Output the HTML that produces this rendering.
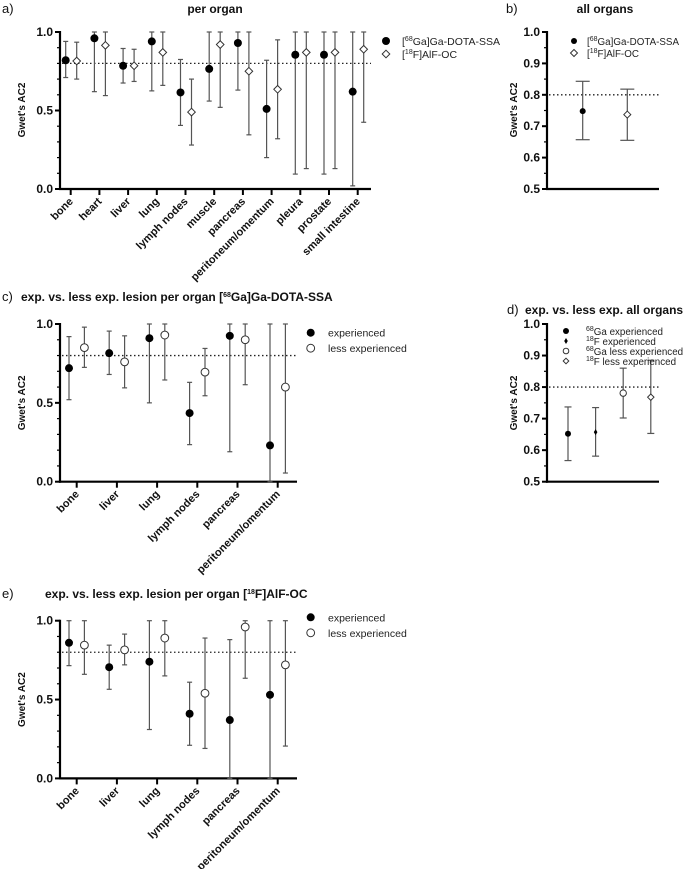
<!DOCTYPE html>
<html><head><meta charset="utf-8">
<style>
html,body{margin:0;padding:0;background:#fff;}
svg{display:block;font-family:"Liberation Sans",Arial,sans-serif;}
</style></head>
<body>
<svg id="fig" width="685" height="869" viewBox="0 0 685 869" xmlns="http://www.w3.org/2000/svg"></svg>
<script>
// ---------- Panel a data ----------
const aCategories = ["bone","heart","liver","lung","lymph nodes","muscle","pancreas","peritoneum/omentum","pleura","prostate","small intestine"];
const aGaVal = [0.82,0.96,0.785,0.94,0.615,0.765,0.93,0.51,0.855,0.855,0.62];
const aGaLo  = [0.71,0.62,0.675,0.625,0.405,0.56,0.63,0.20,0.095,0.095,0.02];
const aGaHi  = [0.94,1.0,0.895,1.0,0.825,1.0,1.0,0.82,1.0,1.0,1.0];
const aFVal  = [0.815,0.915,0.785,0.87,0.49,0.92,0.75,0.635,0.87,0.87,0.89];
const aFLo   = [0.70,0.595,0.685,0.66,0.28,0.52,0.345,0.32,0.13,0.13,0.425];
const aFHi   = [0.935,1.0,0.89,1.0,0.70,1.0,1.0,0.95,1.0,1.0,1.0];
// ---------- Panel b data ----------
const bSeries = ["[68Ga]Ga-DOTA-SSA","[18F]AlF-OC"];
const bVal = [0.748,0.737];
const bLo  = [0.657,0.655];
const bHi  = [0.843,0.818];
// ---------- Panel c data ----------
const cCategories = ["bone","liver","lung","lymph nodes","pancreas","peritoneum/omentum"];
const cExpVal = [0.72,0.815,0.91,0.435,0.925,0.23];
const cExpLo  = [0.52,0.68,0.50,0.235,0.19,0.0];
const cExpHi  = [0.92,0.955,1.0,0.63,1.0,1.0];
const cLessVal= [0.85,0.76,0.93,0.695,0.90,0.60];
const cLessLo = [0.725,0.595,0.645,0.545,0.615,0.055];
const cLessHi = [0.98,0.925,1.0,0.845,1.0,1.0];
// ---------- Panel d data ----------
const dSeries = ["68Ga experienced","18F experienced","68Ga less experienced","18F less experienced"];
const dVal = [0.652,0.657,0.781,0.768];
const dLo  = [0.567,0.581,0.702,0.653];
const dHi  = [0.737,0.735,0.86,0.885];
// ---------- Panel e data ----------
const eCategories = ["bone","liver","lung","lymph nodes","pancreas","peritoneum/omentum"];
const eExpVal = [0.86,0.705,0.74,0.41,0.37,0.53];
const eExpLo  = [0.715,0.565,0.31,0.21,0.0,0.0];
const eExpHi  = [1.0,0.845,1.0,0.61,0.88,1.0];
const eLessVal= [0.845,0.815,0.89,0.54,0.96,0.72];
const eLessLo = [0.66,0.72,0.65,0.19,0.635,0.205];
const eLessHi = [1.0,0.915,1.0,0.89,1.0,1.0];
// tick labels
const yTicksFull = [0,0.5,1.0];
const yTicksZoom = [0.5,0.6,0.7,0.8,0.9,1.0];

const NS="http://www.w3.org/2000/svg";
const svg=document.getElementById('fig');
function el(tag,attrs,parent){const e=document.createElementNS(NS,tag);for(const k in attrs)e.setAttribute(k,attrs[k]);(parent||svg).appendChild(e);return e;}
function txt(x,y,s,attrs,parent){const t=el('text',Object.assign({x:x,y:y,'font-size':11,fill:'#111'},attrs||{}),parent);t.textContent=s;return t;}
function supText(parent,x,y,parts,attrs){
  const t=el('text',Object.assign({x:x,y:y,'font-size':11,fill:'#222'},attrs||{}),parent);
  parts.forEach(p=>{const ts=el('tspan',p[1]?{'font-size':7,dy:-4}:{dy:p[2]||0},t);ts.textContent=p[0];});
  return t;
}
function marker(g,kind,x,y,r){
  if(kind==='dot'){return el('circle',{cx:x,cy:y,r:r,fill:'#000'},g);}
  if(kind==='circle'){return el('circle',{cx:x,cy:y,r:r,fill:'#fff',stroke:'#333','stroke-width':1},g);}
  if(kind==='diamond'){return el('path',{d:`M${x},${y-r} L${x+r},${y} L${x},${y+r} L${x-r},${y} Z`,fill:'#fff',stroke:'#333','stroke-width':1},g);}
  if(kind==='star'){return el('path',{d:`M${x},${y-r} L${x+r*0.6},${y} L${x},${y+r} L${x-r*0.6},${y} Z`,fill:'#000'},g);}
}
function axes(g,x0,x1,yTop,yBot,vmin,vmax,ticks,minorStep){
  const ys=v=>yBot-(v-vmin)/(vmax-vmin)*(yBot-yTop);
  el('line',{x1:x0,y1:yTop-1,x2:x0,y2:yBot+1,stroke:'#000','stroke-width':2.2},g);
  el('line',{x1:x0-1,y1:yBot,x2:x1,y2:yBot,stroke:'#000','stroke-width':2.2},g);
  for(let v=vmin;v<=vmax+1e-9;v+=minorStep){el('line',{x1:x0-3,y1:ys(v),x2:x0,y2:ys(v),stroke:'#000','stroke-width':1.2},g);}
  ticks.forEach(v=>{
    el('line',{x1:x0-5,y1:ys(v),x2:x0,y2:ys(v),stroke:'#000','stroke-width':2},g);
    const t=txt(x0-7,ys(v)+4,v.toFixed(1),{'text-anchor':'end','font-weight':'bold','font-size':12},g);
    
    
  });
  return ys;
}
function refLine(g,x0,x1,y){el('line',{x1:x0+2,y1:y,x2:x1,y2:y,stroke:'#222','stroke-width':1.3,'stroke-dasharray':'1.5,2.5'},g);}
function errbar(g,x,ys,v,lo,hi,cap,kind,r){
  const eg=el('g',{},g);
  
  
  el('line',{x1:x,y1:ys(lo),x2:x,y2:ys(hi),stroke:'#555','stroke-width':1.2},eg);
  el('line',{x1:x-cap,y1:ys(lo),x2:x+cap,y2:ys(lo),stroke:'#555','stroke-width':1.2},eg);
  el('line',{x1:x-cap,y1:ys(hi),x2:x+cap,y2:ys(hi),stroke:'#555','stroke-width':1.2},eg);
  marker(eg,kind,x,ys(v),r);
}
function yTitle(g,x,y){const t=txt(x,y,"Gwet's AC2",{'text-anchor':'middle','font-weight':'bold','font-size':10,transform:`rotate(-90 ${x} ${y})`},g);}
function catLabels(g,cats,xs,yBot){
  cats.forEach((c,i)=>{const x=xs(i)+3,y=yBot+13;
    const t=txt(x,y,c,{'text-anchor':'end','font-weight':'bold','font-size':11,transform:`rotate(-45 ${x} ${y})`},g);
    
    el('line',{x1:xs(i),y1:yBot,x2:xs(i),y2:yBot+6,stroke:'#000','stroke-width':2},g);
  });
}
function panelLabel(g,x,y,s){const t=txt(x,y,s,{'font-size':13},g);}

// ---- Panel a ----
(function(){
  const g=el('g',{});
  panelLabel(g,2,13,'a)');
  const tt=txt(215,13,'per organ',{'text-anchor':'middle','font-weight':'bold','font-size':12},g);
  const x0=60,x1=371,yTop=32,yBot=189;
  const ys=axes(g,x0,x1,yTop,yBot,0,1,yTicksFull,0.1);
  const xs=i=>70.7+i*28.7;
  refLine(g,x0,x1,ys(0.8));
  catLabels(g,aCategories,xs,yBot);
  aCategories.forEach((c,i)=>{
    errbar(g,xs(i)-5,ys,aGaVal[i],aGaLo[i],aGaHi[i],2.5,'dot',4);
    errbar(g,xs(i)+6,ys,aFVal[i],aFLo[i],aFHi[i],2.5,'diamond',3.8);
  });
  yTitle(g,25,110);
  const l=el('g',{},g);
  marker(l,'dot',386,41,4);marker(l,'diamond',386,54,3.8);
  supText(l,402,45,[['[',0],['68',1],['Ga]Ga-DOTA-SSA',0,4]],{'font-size':10.5});
  supText(l,402,58,[['[',0],['18',1],['F]AlF-OC',0,4]],{'font-size':10.5});
})();
// ---- Panel b ----
(function(){
  const g=el('g',{});
  panelLabel(g,506,13,'b)');
  const tt=txt(605,13,'all organs',{'text-anchor':'middle','font-weight':'bold','font-size':12},g);
  const x0=547,x1=659,yTop=32,yBot=189;
  const ys=axes(g,x0,x1,yTop,yBot,0.5,1,yTicksZoom,0.05);
  refLine(g,x0,x1,ys(0.8));
  const xs=i=>582.7+i*44.6;
  errbar(g,xs(0),ys,bVal[0],bLo[0],bHi[0],7,'dot',3);
  errbar(g,xs(1),ys,bVal[1],bLo[1],bHi[1],7,'diamond',3.5);
  yTitle(g,517,110);
  const l=el('g',{},g);
  marker(l,'dot',574,41,3);marker(l,'diamond',574,53,3.5);
  supText(l,587,45,[['[',0],['68',1],['Ga]Ga-DOTA-SSA',0,4]],{'font-size':9.8});
  supText(l,587,57,[['[',0],['18',1],['F]AlF-OC',0,4]],{'font-size':9.8});
})();
// ---- Panels c / e ----
function drawCE(name,label,yOff,titleX,titleParts,cats,ev,el_,eh,lv,ll,lh,yTopOff,legY){
  const g=el('g',{});
  panelLabel(g,2,yOff+5,label);
  const t=supText(g,titleX,yOff+5,titleParts,{'font-weight':'bold','font-size':12,fill:'#111'});
  
  const x0=60,x1=297,yTop=yTopOff,yBot=yTopOff+157.7;
  const ys=axes(g,x0,x1,yTop,yBot,0,1,yTicksFull,0.1);
  const xs=i=>76.7+i*40.2;
  refLine(g,x0,x1,ys(0.8));
  catLabels(g,cats,xs,yBot);
  cats.forEach((c,i)=>{
    errbar(g,xs(i)-7.7,ys,ev[i],el_[i],eh[i],2.5,'dot',4);
    errbar(g,xs(i)+7.7,ys,lv[i],ll[i],lh[i],2.5,'circle',3.9);
  });
  yTitle(g,25,(yTop+yBot)/2);
  const l=el('g',{},g);
  marker(l,'dot',310.7,legY,4);marker(l,'circle',310.7,legY+15.5,3.9);
  txt(328,legY+4,'experienced',{fill:'#222','font-size':10.5},l);
  txt(328,legY+19.5,'less experienced',{fill:'#222','font-size':10.5},l);
}
drawCE('panel-c-ga-experience','c)',296,21,[['exp. vs. less exp. lesion per organ [',0],['68',1],['Ga]Ga-DOTA-SSA',0,4]],
  cCategories,cExpVal,cExpLo,cExpHi,cLessVal,cLessLo,cLessHi,324,332.7);
drawCE('panel-e-f-experience','e)',593,45,[['exp. vs. less exp. lesion per organ [',0],['18',1],['F]AlF-OC',0,4]],
  eCategories,eExpVal,eExpLo,eExpHi,eLessVal,eLessLo,eLessHi,620.7,617.3);
// ---- Panel d ----
(function(){
  const g=el('g',{});
  panelLabel(g,507,314,'d)');
  const tt=txt(525,314,'exp. vs. less exp. all organs',{'font-weight':'bold','font-size':12},g);
  const x0=547,x1=659,yTop=324,yBot=481.7;
  const ys=axes(g,x0,x1,yTop,yBot,0.5,1,yTicksZoom,0.05);
  refLine(g,x0,x1,ys(0.8));
  const xs=i=>568+i*27.6;
  const kinds=['dot','star','circle','diamond'];
  dVal.forEach((v,i)=>errbar(g,xs(i),ys,v,dLo[i],dHi[i],3.5,kinds[i],i<2?3:3.2));
  yTitle(g,517,403);
  const l=el('g',{},g);
  const names=[['68','Ga experienced'],['18','F experienced'],['68','Ga less experienced'],['18','F less experienced']];
  names.forEach((n,i)=>{const y=331+i*10;marker(l,kinds[i],566,y,i<2?3:2.8);
    supText(l,586,y+4,[['',0],[n[0],1],[n[1],0,4]],{'font-size':9.8});});
})();
</script>
</body></html>
